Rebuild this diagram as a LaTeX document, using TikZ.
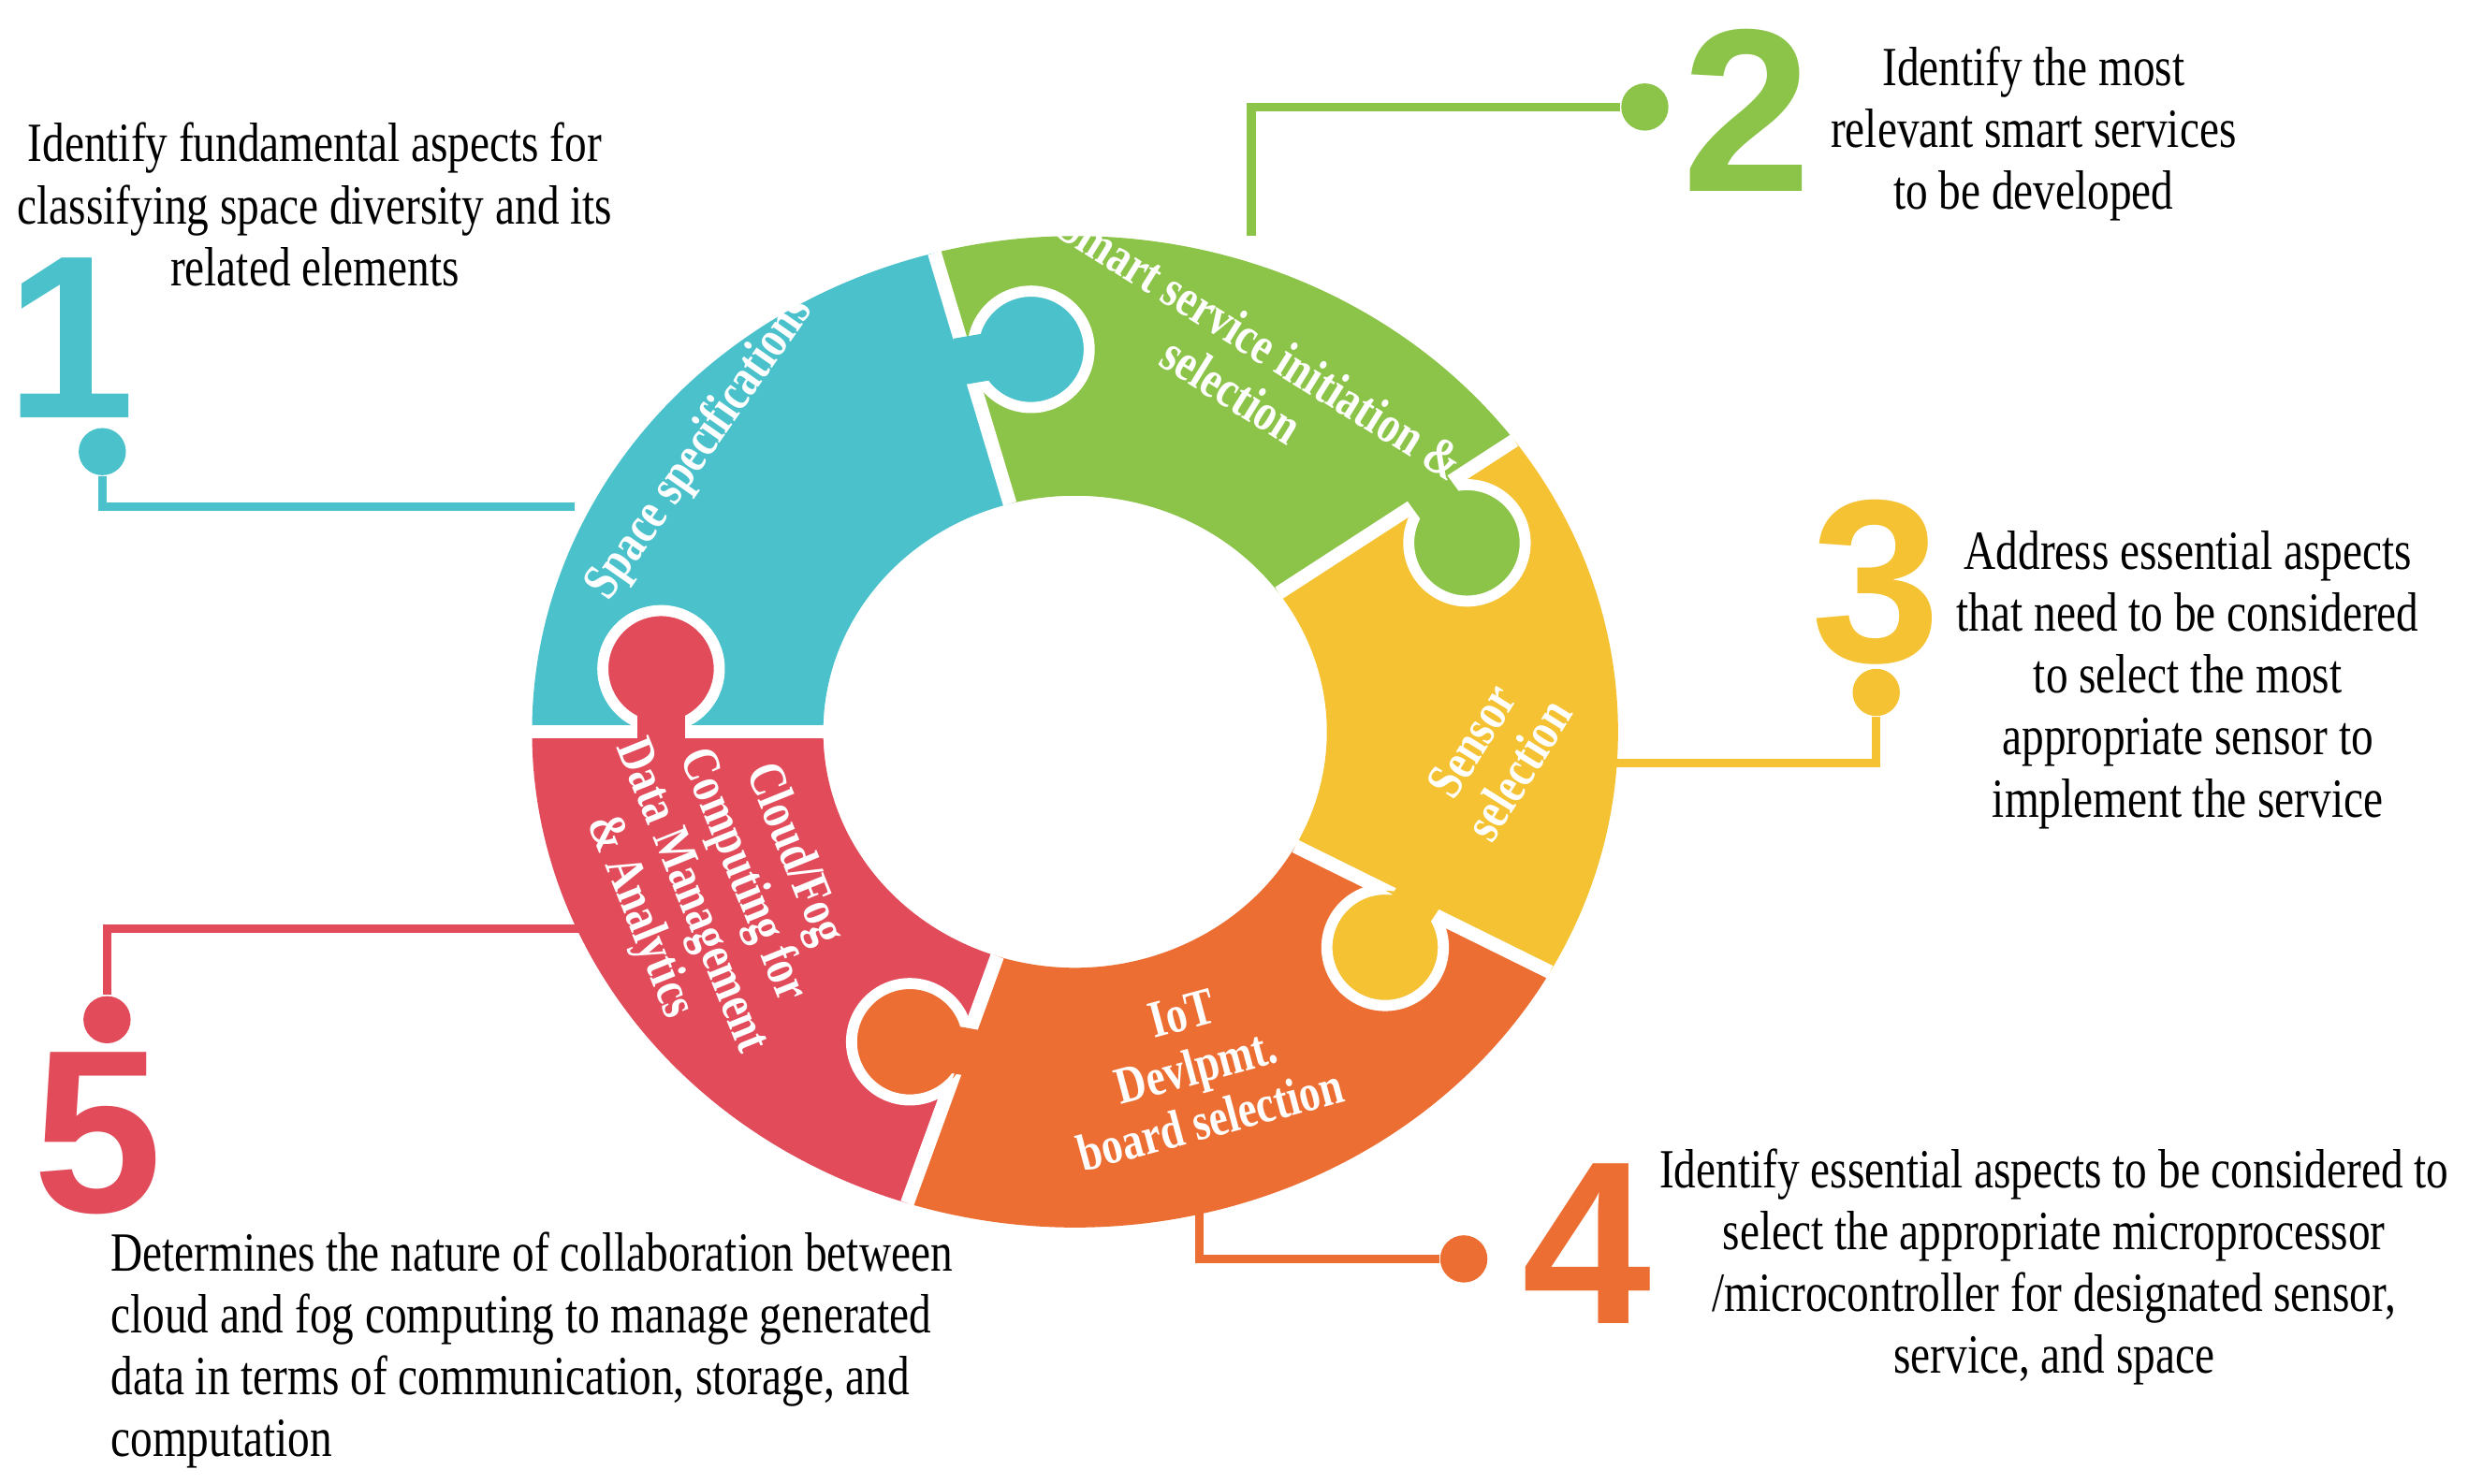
\documentclass[tikz,border=0pt]{standalone}
\usepackage{fontspec}
\setmainfont{Liberation Serif}[FakeStretch=0.8]
\newfontfamily\numfont{Liberation Sans}
\usetikzlibrary{positioning}
\definecolor{cteal}{HTML}{4BC1CB}
\definecolor{cgreen}{HTML}{8CC44A}
\definecolor{cyellow}{HTML}{F4C232}
\definecolor{corange}{HTML}{EC6E32}
\definecolor{cred}{HTML}{E14B5A}
\newcommand\ringsector[2]{(#1:\rox cm and \roy cm) arc[start angle=#1, end angle=#2, x radius=\rox, y radius=\roy]
    -- (#2:\rix cm and \riy cm) arc[start angle=#2, end angle=#1, x radius=\rix, y radius=\riy] -- cycle}
\begin{document}
\begin{tikzpicture}

\def\rox{3.45}
\def\roy{3.15}
\def\rix{1.6}
\def\riy{1.5}

\tikzset{dot/.style = {circle, minimum size=0.3cm, inner sep=0pt},
  link/.style = {line width=1.6pt},
  num/.style = {font=\numfont\bfseries\fontsize{42}{42}\selectfont},
  info/.style = {font=\fontsize{10}{11.2}\selectfont, align=center},
  seg/.style = {font=\bfseries\fontsize{9.5}{10}\selectfont, text=white, align=center},
  neck/.style = {line width=0.3cm}}

\useasboundingbox (0,0) rectangle (15.68,9.43);

\coordinate (C) at (6.83,4.78);

% ring segments
\begin{scope}[shift={(C)}]
\foreach \a/\b/\col in {105/180/cteal, 36/105/cgreen, -29/36/cyellow, -108/-29/corange, 180/252/cred}{
  \fill[\col] \ringsector{\a}{\b};
}
\foreach \a in {105,36,-29,-108,180}{
  \draw[white, line width=2.5pt] (\a:\rix cm and \riy cm) -- (\a:\rox cm and \roy cm);
}
% knobs: fill, white rim inside the next piece, then the neck
\foreach \kx/\ky/\nx/\ny/\col/\a/\b in {-0.28/2.43/-0.75/2.35/cteal/36/105,
    2.49/1.20/2.2/1.6/cgreen/-29/36,
    1.97/-1.37/2.25/-0.95/cyellow/-108/-29,
    -1.05/-1.97/-0.6/-2.05/corange/180/252,
    -2.63/0.40/-2.63/-0.05/cred/105/180}{
  \fill[\col] (\kx,\ky) circle (0.36);
  \begin{scope}
    \clip \ringsector{\a}{\b};
    \draw[white, line width=2pt] (\kx,\ky) circle (0.37);
  \end{scope}
  \draw[\col, neck] (\kx,\ky) -- (\nx,\ny);
}
\end{scope}

% segment labels
\node[seg, rotate=55] (lspace) at (4.45,6.58) {Space specifications};
\node[seg, rotate=-32] (lsmart) at (7.92,7.1) {Smart service initiation \&\\selection};
\node[seg, rotate=58] (lsensor) at (9.5,4.63) {Sensor\\selection};
\node[seg, rotate=15] (liot) at (7.6,2.65) {IoT\\Devlpmt.\\board selection};
\node[seg, rotate=-68] (lcloud) at (4.55,3.8) {Cloud/Fog\\Computing for\\Data Management\\\& Analytics};

% 1
\coordinate (r1) at (3.65,6.21);
\node[dot, fill=cteal] (d1) at (0.65,6.56) {};
\draw[link, cteal] (r1) -- (d1.center |- r1) -- (d1);
\node[num, text=cteal] (n1) at (0.45,7.28) {1};
\node[info] (t1) at (2.0,8.13) {Identify fundamental aspects for\\classifying space diversity and its\\related elements};

% 2
\coordinate (r2) at (7.95,7.93);
\node[dot, fill=cgreen] (d2) at (10.45,8.75) {};
\draw[link, cgreen] (r2) -- (r2 |- d2.center) -- (d2);
\node[num, text=cgreen] (n2) at (11.1,8.73) {2};
\node[info] (t2) at (12.92,8.58) {Identify the most\\relevant smart services\\to be developed};

% 3
\coordinate (r3) at (10.25,4.58);
\node[dot, fill=cyellow] (d3) at (11.92,5.03) {};
\draw[link, cyellow] (r3) -- (d3.center |- r3) -- (d3);
\node[num, text=cyellow] (n3) at (11.92,5.73) {3};
\node[info] (t3) at (13.9,5.11) {Address essential aspects\\that need to be considered\\to select the most\\appropriate sensor to\\implement the service};

% 4
\coordinate (r4) at (7.62,2.03);
\node[dot, fill=corange] (d4) at (9.3,1.43) {};
\draw[link, corange] (r4) -- (r4 |- d4.center) -- (d4);
\node[num, text=corange] (n4) at (10.08,1.53) {4};
\node[info] (t4) at (13.05,1.38) {Identify essential aspects to be considered to\\select the appropriate microprocessor\\/microcontroller for designated sensor,\\service, and space};

% 5
\coordinate (r5) at (3.70,3.53);
\node[dot, fill=cred] (d5) at (0.68,2.95) {};
\draw[link, cred] (r5) -- (d5.center |- r5) -- (d5);
\node[num, text=cred] (n5) at (0.62,2.23) {5};
\node[info, align=left, anchor=west] (t5) at (0.58,0.85) {Determines the nature of collaboration between\\cloud and fog computing to manage generated\\data in terms of communication, storage, and\\computation};

\end{tikzpicture}
\end{document}
